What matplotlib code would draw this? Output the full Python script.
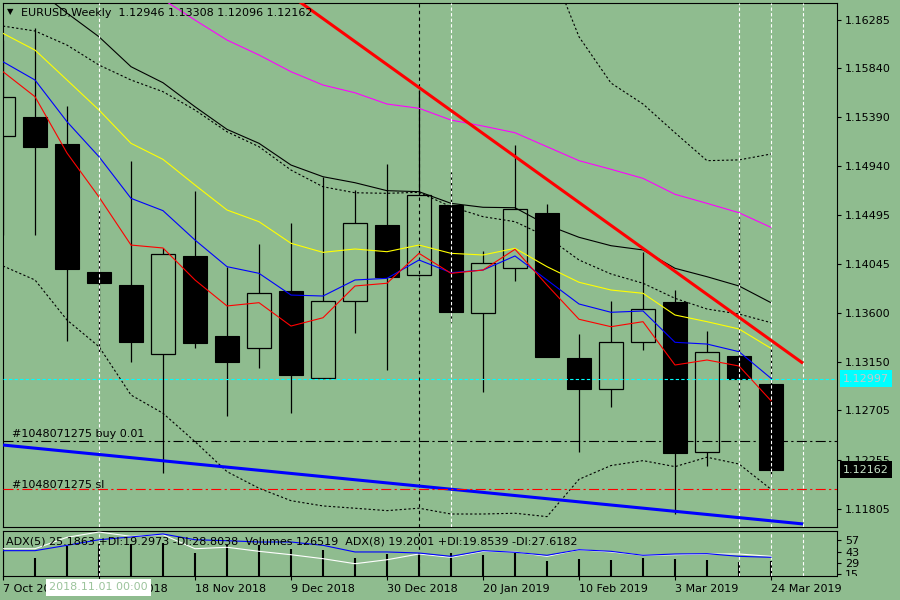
import matplotlib
matplotlib.use('Agg')
import matplotlib.pyplot as plt
from matplotlib.patches import Rectangle
from matplotlib.transforms import blended_transform_factory
import numpy as np

BG = '#8FBC8F'

# ---------------- data ----------------
weeks = ['7 Oct 2018', '14 Oct 2018', '21 Oct 2018', '28 Oct 2018', '4 Nov 2018',
         '11 Nov 2018', '18 Nov 2018', '25 Nov 2018', '2 Dec 2018', '9 Dec 2018',
         '16 Dec 2018', '23 Dec 2018', '30 Dec 2018', '6 Jan 2019', '13 Jan 2019',
         '20 Jan 2019', '27 Jan 2019', '3 Feb 2019', '10 Feb 2019', '17 Feb 2019',
         '24 Feb 2019', '3 Mar 2019', '10 Mar 2019', '17 Mar 2019', '24 Mar 2019']

opens = [1.15216, 1.15393, 1.15145, 1.13973, 1.13854, 1.13219, 1.14120, 1.13387, 1.13274, 1.13799,
         1.12999, 1.13705, 1.14401, 1.13943, 1.14587, 1.13595, 1.14007, 1.14513, 1.13183, 1.12904,
         1.13330, 1.13695, 1.12320, 1.13204, 1.12946]
highs = [1.16098, 1.16205, 1.15494, 1.14559, 1.14990, 1.14193, 1.14715, 1.14022, 1.14230, 1.14425,
         1.14846, 1.14724, 1.14962, 1.15640, 1.14892, 1.14165, 1.15136, 1.14596, 1.13405, 1.13707,
         1.14159, 1.13808, 1.13433, 1.14480, 1.13308]
lows = [1.14312, 1.14312, 1.13344, 1.13231, 1.13151, 1.12135, 1.13274, 1.12657, 1.13096, 1.12684,
        1.12990, 1.13417, 1.13075, 1.13935, 1.13518, 1.12877, 1.13893, 1.13192, 1.12327, 1.12739,
        1.13259, 1.11756, 1.12196, 1.12718, 1.12096]
closes = [1.15579, 1.15121, 1.14003, 1.13875, 1.13335, 1.14138, 1.13325, 1.13151, 1.13778, 1.13032,
          1.13705, 1.14419, 1.13930, 1.14674, 1.13609, 1.14053, 1.14547, 1.13197, 1.12904, 1.13329,
          1.13631, 1.12318, 1.13237, 1.12993, 1.12162]

ma_red = [1.15808, 1.15579, 1.15063, 1.14660, 1.14220, 1.14193, 1.13900, 1.13662, 1.13692, 1.13478,
          1.13554, 1.13845, 1.13870, 1.14144, 1.13961, 1.13991, 1.14181, 1.13854, 1.13540, 1.13472,
          1.13518, 1.13121, 1.13167, 1.13112, 1.12794]
ma_blue = [1.15899, 1.15732, 1.15350, 1.15029, 1.14648, 1.14535, 1.14266, 1.14022, 1.13961, 1.13762,
           1.13753, 1.13900, 1.13915, 1.14083, 1.13967, 1.13991, 1.14120, 1.13900, 1.13680, 1.13604,
           1.13616, 1.13329, 1.13313, 1.13243, 1.12999]
ma_yellow = [1.16159, 1.16006, 1.15732, 1.15457, 1.15152, 1.15005, 1.14770, 1.14541, 1.14434, 1.14236,
             1.14153, 1.14184, 1.14159, 1.14220, 1.14144, 1.14129, 1.14190, 1.14022, 1.13879, 1.13808,
             1.13778, 1.13579, 1.13518, 1.13451, 1.13274]
ma_black = [1.16785, 1.16574, 1.16345, 1.16128, 1.15854, 1.15707, 1.15487, 1.15280, 1.15152, 1.14953,
            1.14846, 1.14791, 1.14718, 1.14709, 1.14602, 1.14566, 1.14562, 1.14404, 1.14291, 1.14214,
            1.14175, 1.14007, 1.13930, 1.13845, 1.13692]
ma_magenta = [1.17380, 1.17200, 1.17020, 1.16840, 1.16650, 1.16470, 1.16281, 1.16098, 1.15961, 1.15808,
              1.15686, 1.15615, 1.15512, 1.15473, 1.15365, 1.15310, 1.15249, 1.15121, 1.14993, 1.14914,
              1.14831, 1.14685, 1.14602, 1.14516, 1.14382]
bb_mid = [1.16226, 1.16181, 1.16052, 1.15869, 1.15732, 1.15625, 1.15457, 1.15258, 1.15121, 1.14907,
          1.14754, 1.14699, 1.14694, 1.14703, 1.14571, 1.14480, 1.14434, 1.14296, 1.14083, 1.13955,
          1.13870, 1.13732, 1.13634, 1.13588, 1.13509]
bb_upper = [1.18424, 1.18462, 1.18571, 1.18449, 1.18618, 1.18571, 1.18495, 1.18372, 1.18250, 1.17936,
            1.17678, 1.17589, 1.17601, 1.17597, 1.17386, 1.17204, 1.17105, 1.16860, 1.16128, 1.15704,
            1.15512, 1.15249, 1.14993, 1.15000, 1.15054]
bb_lower = [1.14028, 1.13900, 1.13533, 1.13289, 1.12846, 1.12679, 1.12419, 1.12144, 1.11992, 1.11878,
            1.11830, 1.11809, 1.11787, 1.11809, 1.11756, 1.11756, 1.11763, 1.11732, 1.12074, 1.12200,
            1.12245, 1.12190, 1.12276, 1.12214, 1.11983]

volumes = [215000, 152000, 256000, 275000, 275000, 284000, 195000, 267000, 261000, 232000,
           218000, 152000, 189000, 198000, 198000, 175000, 198000, 127000, 146000, 138000,
           155000, 146000, 138000, 118000, 126519]
adx_blue = [44.2, 44.2, 50.8, 57.7, 61.1, 64.8, 57.7, 56.5, 54.9, 54.9, 50.8, 42.6, 42.6, 41.3,
            37.2, 44.2, 42.2, 38.5, 45.4, 43.4, 38.5, 40.1, 40.5, 37.2, 36.0]
adx_white = [46.6, 46.6, 60.7, 67.2, 61.9, 63.9, 46.6, 48.4, 43.4, 39.2, 34.3, 28.1, 33.0, 40.1,
             36.0, 43.4, 42.6, 37.2, 45.4, 42.6, 38.5, 39.2, 40.1, 40.1, 37.2]

red_tl_bars = [9, 25]
red_tl_prices = [1.16505, 1.13137]
blue_tl_bars = [0, 25]
blue_tl_prices = [1.12388, 1.11665]

cyan_price = 1.12997
bid_price = 1.12162
buy_price = 1.12422
sl_price = 1.11982
order_ticket = '#1048071275'

price_ticks = [1.16285, 1.15840, 1.15390, 1.14940, 1.14495, 1.14045, 1.13600,
               1.13150, 1.12705, 1.12255, 1.11805]
sub_ticks = [57, 43, 29, 15]
white_vlines_main = [3, 14, 23, 24, 25]
white_vlines_sub = [3, 23, 24, 25]
separator_bars = [13]

title = 'EURUSD,Weekly  1.12946 1.13308 1.12096 1.12162'
sub_title = ('ADX(5) 25.1863 +DI:19.2973 -DI:28.8038  Volumes 126519  '
             'ADX(8) 19.2001 +DI:19.8539 -DI:27.6182')
tooltip = '2018.11.01 00:00'

# ---------------- layout ----------------
W, H = 900, 600
plt.rcParams['font.family'] = ['DejaVu Sans']
plt.rcParams['font.size'] = 8

fig = plt.figure(figsize=(9, 6), dpi=100, facecolor=BG)

def fx(px):
    return px / W

def fy(py):
    return 1 - py / H

L, R = 2.5, 836.7
main_rect = [fx(L), fy(527), (R - L) / W, (527 - 2.5) / H]
sub_rect = [fx(L), fy(575.7), (R - L) / W, (575.7 - 530.7) / H]

ax = fig.add_axes(main_rect, facecolor=BG)
axv = fig.add_axes(sub_rect, facecolor=BG)
axs = fig.add_axes(sub_rect, facecolor='none')

n = len(opens)
x = np.arange(n)
xlim = (-0.5 / 32, (R - 3) / 32)
for a in (ax, axv, axs):
    a.set_xlim(*xlim)

ax.set_ylim(1.11637, 1.16442)

# period separator
for b in separator_bars:
    ax.axvline(b, color='black', lw=0.8, ls=(0, (3, 3)), zorder=1)
    axs.axvline(b, color='black', lw=0.8, ls=(0, (3, 3)), zorder=1)

# candles
bw = 0.77
for i in range(n):
    o, h, l, c = opens[i], highs[i], lows[i], closes[i]
    top, bot = max(o, c), min(o, c)
    ax.plot([i, i], [top, h], color='black', lw=0.9, zorder=2, solid_capstyle='butt')
    ax.plot([i, i], [l, bot], color='black', lw=0.9, zorder=2, solid_capstyle='butt')
    if c < o:
        ax.add_patch(Rectangle((i - bw / 2, bot), bw, top - bot, facecolor='black',
                               edgecolor='black', lw=0.8, zorder=2))
    else:
        ax.add_patch(Rectangle((i - bw / 2, bot), bw, top - bot, facecolor='none',
                               edgecolor='black', lw=0.9, zorder=2))

# indicators
ax.plot(x, ma_magenta, color='#FF00FF', lw=0.8, zorder=3)
ax.plot(x, ma_black, color='black', lw=0.8, zorder=3)
ax.plot(x, bb_mid, color='black', lw=0.8, ls=(0, (2, 2)), zorder=3)
ax.plot(x, bb_upper, color='black', lw=0.8, ls=(0, (2, 2)), zorder=3)
ax.plot(x, bb_lower, color='black', lw=0.8, ls=(0, (2, 2)), zorder=3)
ax.plot(x, ma_yellow, color='#FFFF00', lw=0.8, zorder=3)
ax.plot(x, ma_blue, color='#0000FF', lw=0.8, zorder=3)
ax.plot(x, ma_red, color='#FF0000', lw=0.8, zorder=3)

# vertical lines
for b in white_vlines_main:
    ax.axvline(b, color='white', lw=0.8, ls=(0, (3, 2)), zorder=3.5)
for b in white_vlines_sub:
    axs.axvline(b, color='white', lw=0.8, ls=(0, (3, 2)), zorder=1)

# trendlines
ax.plot(red_tl_bars, red_tl_prices, color='#FF0000', lw=2.2, zorder=4, solid_capstyle='butt')
ax.plot(blue_tl_bars, blue_tl_prices, color='#0000FF', lw=2.2, zorder=4, solid_capstyle='butt')

# horizontal lines
ax.axhline(cyan_price, color='#00FFFF', lw=0.8, ls=(0, (3, 2)), zorder=4)
ax.axhline(buy_price, color='black', lw=0.8, ls=(0, (9, 3, 2, 3)), zorder=4)
ax.axhline(sl_price, color='#FF0000', lw=0.8, ls=(0, (9, 3, 2, 3)), zorder=4)

tr = blended_transform_factory(fig.transFigure, ax.transData)
ax.text(fx(12), buy_price + 0.00044, order_ticket + ' buy 0.01', transform=tr,
        fontsize=8, color='black', va='baseline', ha='left', zorder=5)
ax.text(fx(12), sl_price + 0.00012, order_ticket + ' sl', transform=tr,
        fontsize=8, color='black', va='baseline', ha='left', zorder=5)

# price axis
ax.yaxis.tick_right()
ax.set_yticks(price_ticks)
ax.set_yticklabels([f'{v:.5f}' for v in price_ticks])
ax.tick_params(axis='y', direction='out', length=3, width=0.8, pad=3, labelsize=8,
               colors='black')
ax.tick_params(axis='x', bottom=False, labelbottom=False)
for s in ax.spines.values():
    s.set_color('black')
    s.set_linewidth(0.8)

ax.text(fx(843), cyan_price, f'{cyan_price:.5f}', transform=tr, fontsize=8,
        color='#C8C8C8', va='center', ha='left', zorder=6, clip_on=False,
        bbox=dict(boxstyle='square,pad=0.3', fc='#00FFFF', ec='none'))
ax.text(fx(843), bid_price, f'{bid_price:.5f}', transform=tr, fontsize=8,
        color='#C8E4C8', va='center', ha='left', zorder=6, clip_on=False,
        bbox=dict(boxstyle='square,pad=0.3', fc='black', ec='none'))

# sub window: volumes + ADX
axv.set_ylim(0, 387300)
axv.vlines(x, 0, volumes, color='black', lw=1.5)
axv.set_xticks([])
axv.set_yticks([])
for s in axv.spines.values():
    s.set_visible(False)

axs.set_ylim(13.3, 68.85)
axs.plot(x, adx_white, color='white', lw=0.8, zorder=3)
axs.plot(x, adx_blue, color='#0000FF', lw=0.8, zorder=3)
axs.yaxis.tick_right()
axs.set_yticks(sub_ticks)
axs.set_yticklabels([str(v) for v in sub_ticks])
axs.tick_params(axis='y', direction='out', length=3, width=0.8, pad=3, labelsize=8)
label_bars = list(range(0, n, 3))
axs.set_xticks(label_bars)
axs.set_xticklabels([weeks[i] for i in label_bars])
axs.tick_params(axis='x', direction='out', length=3, width=0.8, pad=3, labelsize=8)
for lbl in axs.get_xticklabels():
    lbl.set_ha('left')
for s in axs.spines.values():
    s.set_color('black')
    s.set_linewidth(0.8)

# titles
fig.text(fx(10), fy(12), '\u25BC', fontsize=6, ha='center', va='center', color='black')
fig.text(fx(21), fy(13), title, fontsize=8, ha='left', va='center', color='black')
fig.text(fx(6), fy(541.5), sub_title, fontsize=8, ha='left', va='center', color='black')

# crosshair/time tooltip
fig.text(fx(49), fy(587.5), tooltip, fontsize=8, ha='left', va='center', color='#9CC49C',
         zorder=10, bbox=dict(boxstyle='square,pad=0.3', fc='white', ec='none'))

# clip the last sub-window scale label at the window's bottom edge
fig.patches.append(Rectangle((fx(838), fy(581)), (W - 838) / W, (581 - 576.2) / H,
                             transform=fig.transFigure, facecolor=BG, edgecolor='none',
                             zorder=9))

fig.savefig('out.png', dpi=100, facecolor=BG)
